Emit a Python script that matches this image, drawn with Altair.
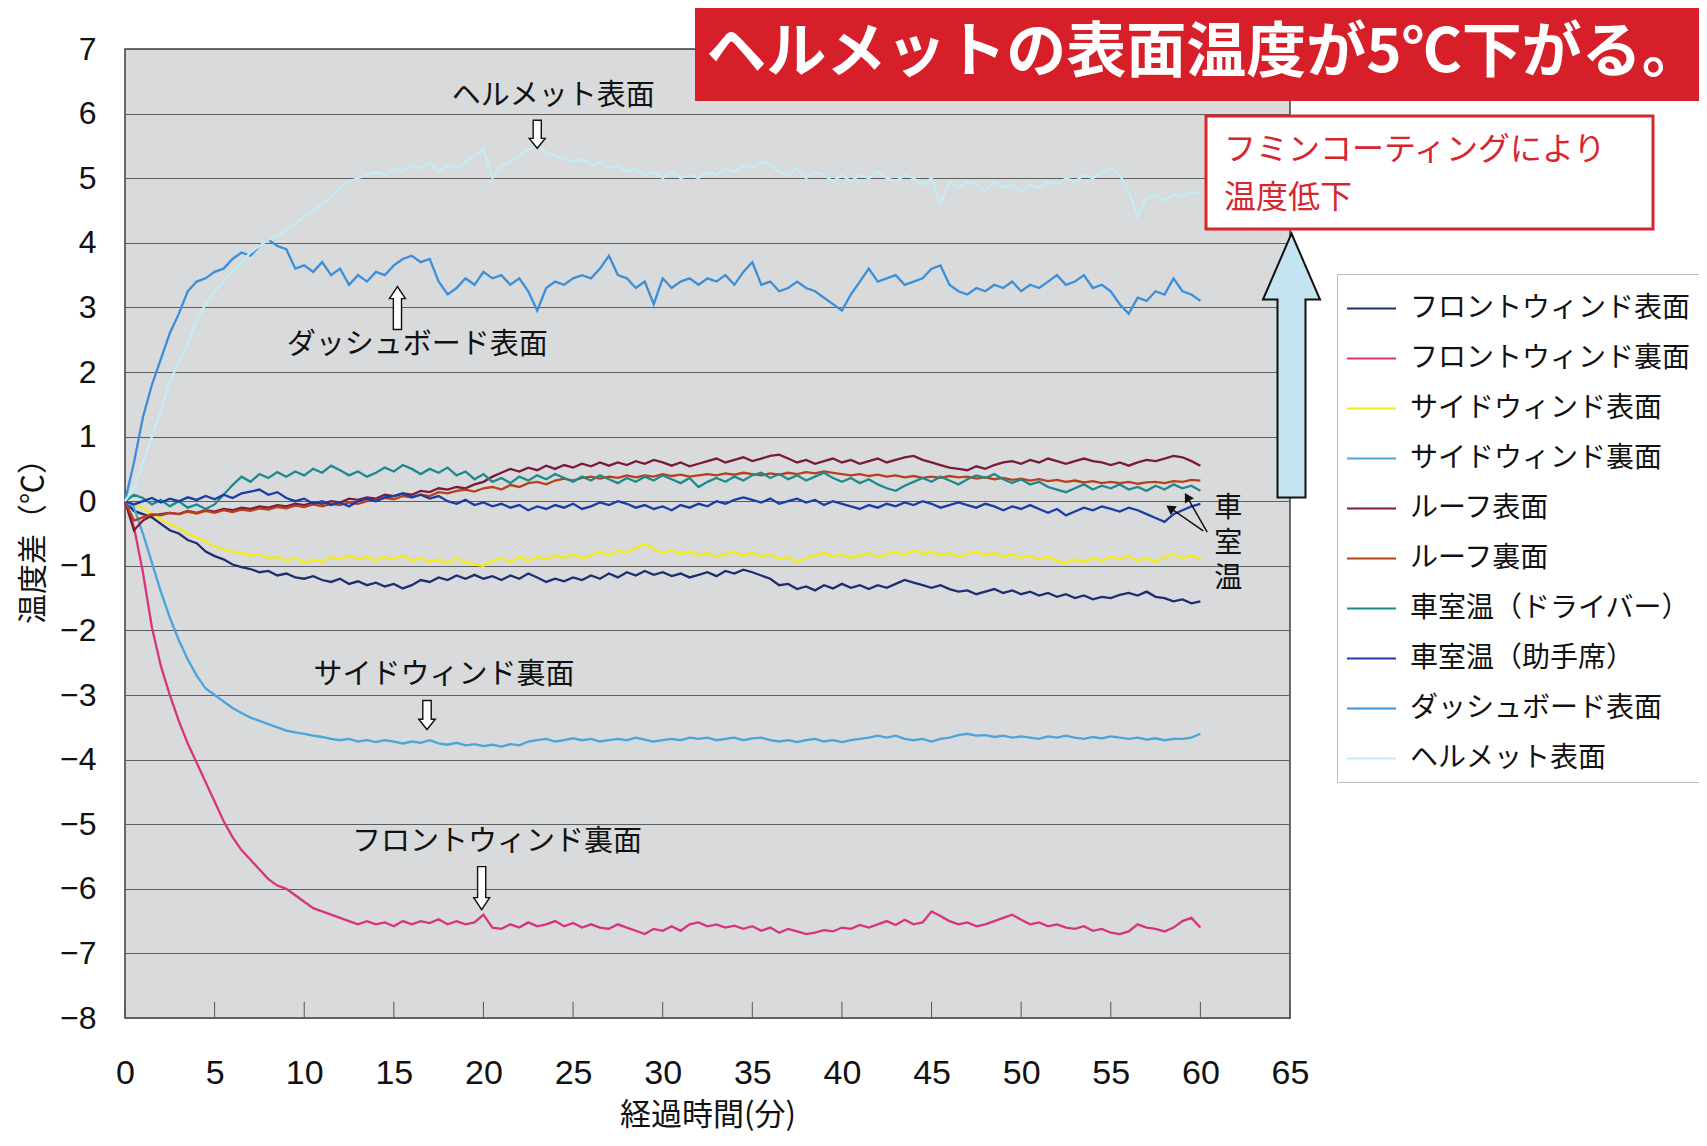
import altair as alt
import pandas as pd

# ---------------- data ----------------
minutes = [i / 2 for i in range(121)]  # 0, 0.5, ... 60 min

series_names = [
    "フロントウィンド表面", "フロントウィンド裏面", "サイドウィンド表面", "サイドウィンド裏面",
    "ルーフ表面", "ルーフ裏面", "車室温（ドライバー）", "車室温（助手席）",
    "ダッシュボード表面", "ヘルメット表面",
]
series_colors = [
    "#1d2f6f", "#d8347e", "#f2ec18", "#4aa5db",
    "#7a1b3e", "#b8401c", "#1e8a8e", "#1c3ca6",
    "#3b8fd9", "#c6ebf8",
]

front_surface = [
    0, -0.15, -0.2, -0.25, -0.35, -0.45, -0.5, -0.6, -0.65, -0.78,
    -0.85, -0.9, -0.98, -1.02, -1.05, -1.1, -1.08, -1.15, -1.12, -1.18,
    -1.2, -1.16, -1.22, -1.25, -1.2, -1.28, -1.24, -1.3, -1.26, -1.32,
    -1.28, -1.35, -1.3, -1.22, -1.25, -1.18, -1.22, -1.15, -1.2, -1.14,
    -1.2, -1.16, -1.22, -1.15, -1.2, -1.12, -1.18, -1.25, -1.2, -1.24,
    -1.18, -1.22, -1.15, -1.2, -1.12, -1.18, -1.1, -1.15, -1.08, -1.14,
    -1.1, -1.16, -1.12, -1.18, -1.14, -1.1, -1.16, -1.08, -1.12, -1.06,
    -1.1, -1.15, -1.2, -1.3, -1.28, -1.36, -1.32, -1.38, -1.3, -1.35,
    -1.28, -1.34, -1.3, -1.36, -1.3, -1.34, -1.28, -1.22, -1.26, -1.3,
    -1.34, -1.3, -1.36, -1.4, -1.38, -1.44, -1.4, -1.36, -1.42, -1.38,
    -1.44, -1.4, -1.46, -1.42, -1.48, -1.44, -1.5, -1.46, -1.52, -1.48,
    -1.5, -1.45, -1.42, -1.46, -1.4, -1.48, -1.5, -1.55, -1.52, -1.58,
    -1.55,
]
front_back = [
    0, -0.4, -1.1, -1.95, -2.55, -3.0, -3.4, -3.75, -4.05, -4.35,
    -4.65, -4.95, -5.2, -5.4, -5.55, -5.7, -5.85, -5.95, -6.0, -6.1,
    -6.2, -6.3, -6.35, -6.4, -6.45, -6.5, -6.55, -6.5, -6.55, -6.52,
    -6.58, -6.5, -6.55, -6.5, -6.53, -6.47, -6.55, -6.5, -6.55, -6.52,
    -6.4, -6.6, -6.62, -6.55, -6.6, -6.52, -6.58, -6.55, -6.5, -6.58,
    -6.53, -6.6, -6.55, -6.6, -6.62, -6.55, -6.6, -6.65, -6.7, -6.62,
    -6.65, -6.58, -6.65, -6.55, -6.52, -6.58, -6.55, -6.6, -6.57, -6.62,
    -6.58, -6.65, -6.6, -6.68, -6.62, -6.66, -6.7, -6.68, -6.64, -6.66,
    -6.6, -6.62, -6.56, -6.6, -6.55, -6.5, -6.56, -6.48, -6.55, -6.52,
    -6.35, -6.42, -6.5, -6.55, -6.52, -6.58, -6.55, -6.5, -6.45, -6.4,
    -6.48, -6.55, -6.52, -6.58, -6.55, -6.6, -6.62, -6.58, -6.65, -6.62,
    -6.68, -6.7, -6.66, -6.55, -6.6, -6.62, -6.66, -6.6, -6.5, -6.45,
    -6.6,
]
side_surface = [
    0, -0.05, -0.1, -0.2, -0.28, -0.35, -0.42, -0.5, -0.56, -0.62,
    -0.7, -0.74, -0.78, -0.8, -0.84, -0.82, -0.88, -0.86, -0.92, -0.88,
    -0.95, -0.9, -0.94, -0.86, -0.9, -0.84, -0.9, -0.85, -0.92, -0.86,
    -0.9, -0.84, -0.92, -0.88, -0.94, -0.9, -0.96, -0.88, -0.94, -0.98,
    -1.0, -0.92, -0.88, -0.94, -0.86, -0.92, -0.86, -0.9, -0.84, -0.88,
    -0.82, -0.88, -0.84, -0.78, -0.84, -0.76, -0.8, -0.72, -0.66, -0.74,
    -0.8, -0.76, -0.82, -0.78, -0.84, -0.8, -0.86, -0.82, -0.78, -0.84,
    -0.8, -0.86, -0.82, -0.9, -0.86, -0.95, -0.88, -0.84, -0.8, -0.86,
    -0.82, -0.88, -0.84, -0.8, -0.86, -0.82, -0.78, -0.84, -0.76, -0.82,
    -0.78, -0.84, -0.8, -0.86, -0.82, -0.78, -0.84, -0.8, -0.86, -0.82,
    -0.88, -0.84, -0.9, -0.86, -0.92, -0.96, -0.9, -0.94, -0.88, -0.92,
    -0.86, -0.9, -0.84, -0.92, -0.88, -0.94, -0.86, -0.82, -0.88, -0.84,
    -0.9,
]
side_back = [
    0, -0.1, -0.5, -0.95, -1.4, -1.8, -2.15, -2.45, -2.7, -2.9,
    -3.0, -3.1, -3.2, -3.28, -3.35, -3.4, -3.45, -3.5, -3.55, -3.58,
    -3.6, -3.63, -3.65, -3.68, -3.7, -3.68, -3.72, -3.7, -3.73, -3.7,
    -3.72, -3.75, -3.72, -3.74, -3.7, -3.75, -3.77, -3.74, -3.78, -3.76,
    -3.79, -3.77, -3.8, -3.76, -3.78, -3.72, -3.7, -3.68, -3.72, -3.7,
    -3.67, -3.7, -3.68, -3.72, -3.7, -3.68, -3.7, -3.66, -3.69, -3.72,
    -3.7, -3.68, -3.7, -3.66, -3.68, -3.66, -3.7, -3.68, -3.66, -3.7,
    -3.67, -3.66, -3.7, -3.72, -3.7, -3.73, -3.7, -3.68, -3.72, -3.7,
    -3.73, -3.7, -3.68, -3.66, -3.63, -3.66, -3.63, -3.68, -3.7, -3.68,
    -3.72, -3.68, -3.66, -3.62, -3.6, -3.63, -3.62, -3.65, -3.63, -3.66,
    -3.64, -3.66, -3.68, -3.64, -3.66, -3.63, -3.66, -3.68, -3.65, -3.67,
    -3.64, -3.66, -3.68, -3.66, -3.69, -3.67, -3.7, -3.68, -3.68, -3.66,
    -3.6,
]
roof_surface = [
    0, -0.45, -0.3, -0.22, -0.2, -0.18, -0.2, -0.15, -0.18, -0.14,
    -0.16, -0.12, -0.14, -0.1, -0.12, -0.08, -0.1, -0.06, -0.08, -0.04,
    -0.06, -0.02, -0.04, 0.0, -0.02, 0.04, 0.02, 0.06, 0.04, 0.1,
    0.08, 0.12, 0.1, 0.16, 0.14, 0.2, 0.18, 0.22, 0.2, 0.26,
    0.3, 0.38, 0.44, 0.5, 0.46, 0.52, 0.48, 0.55, 0.5, 0.56,
    0.52, 0.58, 0.54, 0.6, 0.55, 0.6, 0.56, 0.62, 0.58, 0.64,
    0.6, 0.55, 0.6, 0.54, 0.58, 0.62, 0.66, 0.6, 0.64, 0.68,
    0.62, 0.66, 0.7, 0.72, 0.66, 0.6, 0.64, 0.58, 0.62, 0.66,
    0.6, 0.64, 0.58, 0.62, 0.66, 0.6, 0.64, 0.68, 0.7, 0.64,
    0.6, 0.56, 0.52, 0.5, 0.48, 0.54, 0.5, 0.56, 0.6, 0.62,
    0.58, 0.64, 0.6, 0.66, 0.62, 0.58, 0.62, 0.66, 0.62, 0.6,
    0.56, 0.6, 0.55, 0.6, 0.64, 0.62, 0.66, 0.7, 0.68, 0.62,
    0.55,
]
roof_back = [
    0, -0.3, -0.25, -0.2, -0.22, -0.18, -0.2, -0.16, -0.19, -0.15,
    -0.18, -0.14, -0.17, -0.13, -0.15, -0.11, -0.13, -0.09, -0.11, -0.07,
    -0.09, -0.05, -0.08, -0.04, -0.06, -0.02, -0.04, 0.0, 0.02, 0.05,
    0.03, 0.08, 0.06, 0.1, 0.08, 0.14, 0.12, 0.16, 0.18, 0.15,
    0.2, 0.22, 0.18, 0.25, 0.22, 0.28, 0.3, 0.26, 0.32, 0.35,
    0.32, 0.36, 0.38, 0.35, 0.38, 0.36, 0.4, 0.37, 0.4, 0.38,
    0.42, 0.39, 0.41, 0.38, 0.4, 0.42, 0.4, 0.43, 0.41, 0.44,
    0.42, 0.4, 0.43, 0.41, 0.44, 0.42, 0.45, 0.43, 0.46, 0.44,
    0.42, 0.4, 0.42, 0.39, 0.41, 0.38, 0.4, 0.37, 0.39, 0.36,
    0.38, 0.36, 0.39, 0.37, 0.38, 0.35, 0.37, 0.34, 0.36, 0.33,
    0.35, 0.32, 0.34, 0.31, 0.33, 0.3, 0.32, 0.29, 0.31, 0.28,
    0.3, 0.28, 0.3, 0.27, 0.29, 0.3, 0.28, 0.31, 0.3, 0.33,
    0.32,
]
cabin_driver = [
    0, 0.1, 0.05, -0.05, 0.02, -0.08, 0.0, -0.1, -0.05, -0.12,
    -0.05, 0.1, 0.25, 0.38, 0.3, 0.42, 0.36, 0.45, 0.38, 0.46,
    0.4, 0.5, 0.44, 0.55, 0.48, 0.4, 0.46, 0.38, 0.44, 0.52,
    0.46, 0.56, 0.5, 0.42, 0.5, 0.44, 0.52, 0.4, 0.46, 0.34,
    0.42, 0.3, 0.36, 0.28, 0.38, 0.32, 0.4, 0.34, 0.42, 0.36,
    0.3, 0.38, 0.32, 0.4, 0.34, 0.28, 0.36, 0.3, 0.38, 0.32,
    0.4, 0.34, 0.28, 0.36, 0.22, 0.3, 0.36, 0.3, 0.38, 0.32,
    0.4, 0.44, 0.36, 0.42, 0.34, 0.4, 0.32, 0.38, 0.44, 0.36,
    0.3, 0.36, 0.28, 0.34, 0.26, 0.2, 0.16, 0.24, 0.3, 0.36,
    0.3, 0.38, 0.32, 0.26, 0.34, 0.4, 0.36, 0.42, 0.34, 0.28,
    0.34, 0.26, 0.3, 0.22, 0.18, 0.14, 0.2, 0.26, 0.18, 0.24,
    0.2, 0.26, 0.18, 0.22, 0.16, 0.24, 0.18, 0.26, 0.2, 0.24,
    0.16,
]
cabin_passenger = [
    0, -0.05, 0.0, 0.05, -0.02, 0.04, 0.0, 0.06, 0.02, 0.08,
    0.03, 0.1, 0.05, 0.12, 0.15, 0.18, 0.1, 0.14, 0.05, 0.0,
    0.04, -0.04, 0.0, -0.06, -0.02, -0.08, 0.0, 0.04, 0.0, 0.06,
    0.08, 0.12, 0.06, 0.1, 0.04, 0.08, 0.0, -0.04, 0.02, -0.06,
    -0.02, -0.08, -0.04, -0.1, -0.06, -0.14, -0.08, -0.12, -0.06, -0.1,
    -0.04, -0.12, -0.08, -0.02, -0.06, 0.0, -0.04, -0.1, -0.06, -0.12,
    -0.08, -0.14, -0.06, -0.1, -0.04, -0.08, 0.0, -0.04, 0.02, 0.06,
    0.02, -0.02, 0.04, -0.04, 0.0, 0.04, -0.02, 0.02, -0.06, 0.0,
    -0.04, -0.08, -0.12, -0.06, -0.1, -0.04, -0.08, -0.02, -0.06, 0.0,
    -0.04, -0.1, -0.06, -0.02, -0.06, -0.1, -0.04, -0.08, -0.14, -0.08,
    -0.12, -0.06, -0.12, -0.18, -0.12, -0.22, -0.16, -0.1, -0.14, -0.08,
    -0.12, -0.16, -0.1, -0.14, -0.2, -0.26, -0.32, -0.2, -0.14, -0.08,
    -0.04,
]
dashboard = [
    0, 0.6, 1.3, 1.8, 2.2, 2.6, 2.9, 3.25, 3.4, 3.45,
    3.55, 3.6, 3.75, 3.85, 3.8, 3.95, 4.05, 3.95, 3.9, 3.6,
    3.65, 3.55, 3.7, 3.5, 3.6, 3.35, 3.5, 3.4, 3.55, 3.5,
    3.65, 3.75, 3.8, 3.7, 3.75, 3.4, 3.2, 3.3, 3.45, 3.35,
    3.55, 3.45, 3.5, 3.35, 3.45, 3.25, 2.95, 3.3, 3.4, 3.35,
    3.45, 3.5, 3.45, 3.6, 3.8, 3.5, 3.45, 3.3, 3.4, 3.05,
    3.45, 3.3, 3.4, 3.45, 3.35, 3.45, 3.4, 3.5, 3.35, 3.55,
    3.7, 3.35, 3.4, 3.25, 3.3, 3.4, 3.3, 3.25, 3.15, 3.05,
    2.95, 3.2, 3.4, 3.6, 3.4, 3.45, 3.5, 3.35, 3.4, 3.45,
    3.6, 3.65, 3.35, 3.25, 3.2, 3.3, 3.25, 3.35, 3.3, 3.4,
    3.25, 3.35, 3.3, 3.4, 3.5, 3.35, 3.4, 3.5, 3.3, 3.35,
    3.25, 3.05, 2.9, 3.15, 3.1, 3.25, 3.2, 3.45, 3.25, 3.2,
    3.1,
]
helmet = [
    0, 0.2, 0.6, 1.0, 1.4, 1.85, 2.15, 2.45, 2.8, 3.05,
    3.25, 3.4, 3.55, 3.7, 3.85, 3.95, 4.05, 4.1, 4.2, 4.3,
    4.4, 4.5, 4.6, 4.7, 4.85, 4.95, 5.0, 5.05, 5.1, 5.05,
    5.15, 5.1, 5.2, 5.15, 5.25, 5.1, 5.2, 5.15, 5.25, 5.35,
    5.45, 5.0, 5.2, 5.25, 5.35, 5.45, 5.5, 5.4, 5.35, 5.3,
    5.25, 5.3, 5.2, 5.25, 5.15, 5.2, 5.1, 5.15, 5.05, 5.1,
    5.0, 5.1, 5.0, 5.05, 5.0, 5.1, 5.05, 5.15, 5.1, 5.2,
    5.15, 5.25, 5.2, 5.1, 5.05, 5.15, 5.0, 5.1, 5.05, 4.95,
    5.05, 4.95, 5.05, 5.0, 5.1, 5.0, 4.95, 5.05, 5.0, 4.9,
    5.0, 4.6, 4.95, 4.85, 4.95, 4.9, 4.8, 4.95, 4.85, 4.9,
    4.8, 4.9, 4.85, 4.95, 4.9, 5.0, 4.95, 5.05, 5.0, 5.1,
    5.15, 5.05, 4.8, 4.4, 4.7, 4.75, 4.65, 4.75, 4.7, 4.8,
    4.75,
]

x_tick_values = [0, 5, 10, 15, 20, 25, 30, 35, 40, 45, 50, 55, 60, 65]
y_tick_values = [-8, -7, -6, -5, -4, -3, -2, -1, 0, 1, 2, 3, 4, 5, 6, 7]

ann_labels = ["ヘルメット表面", "ダッシュボード表面", "サイドウィンド裏面", "フロントウィンド裏面"]
ann_label_time = [23.9, 16.3, 17.8, 20.76]
ann_label_temp = [6.27, 2.42, -2.69, -5.28]

banner_text = "ヘルメットの表面温度が5℃下がる。"
note_lines = ["フミンコーティングにより", "温度低下"]
cabin_label = ["車", "室", "温"]

# ---------------- build ----------------
all_values = [front_surface, front_back, side_surface, side_back, roof_surface,
              roof_back, cabin_driver, cabin_passenger, dashboard, helmet]
rows = []
for name, vals in zip(series_names, all_values):
    for t, v in zip(minutes, vals):
        rows.append({"time": t, "temp": v, "series": name})
df = pd.DataFrame(rows)

xs = alt.Scale(domain=[0, 65], nice=False, zero=False)
ys = alt.Scale(domain=[-8, 7], nice=False, zero=False)

JP = "Noto Sans CJK JP"

x_axis = alt.Axis(values=x_tick_values, title="経過時間(分)", grid=False, ticks=False,
                  domain=False, labelFontSize=34, labelFlush=False,
                  labelFont="Liberation Sans Narrow, Liberation Sans, sans-serif",
                  labelPadding=38, labelColor="#111", titleFontSize=31, titleFont=JP,
                  titleFontWeight="normal", titleColor="#111", titleX=582.5, titleY=97,
                  titleBaseline="middle", titleAlign="center")
y_axis = alt.Axis(values=y_tick_values, title="温度差（℃）", grid=True, gridColor="#5e5e5e",
                  gridWidth=1, ticks=False, domain=False, labelFontSize=32,
                  labelFont="Liberation Sans", labelPadding=29, labelColor="#111", format="d",
                  titleFontSize=30, titleFont=JP, titleFontWeight="normal", titleColor="#111",
                  titleX=-92, titleY=484.5, titleAngle=-90, titleBaseline="middle",
                  titleAlign="center")

legend = alt.Legend(title=None, orient="none", legendX=1212, legendY=225,
                    symbolType="stroke", symbolSize=2400, symbolStrokeWidth=2,
                    labelFontSize=28, labelFont=JP, labelColor="#111", labelLimit=500,
                    rowPadding=10, padding=9, fillColor="white", strokeColor="#bdbdbd",
                    labelOffset=13)

lines = alt.Chart(df).mark_line(strokeWidth=2.3).encode(
    x=alt.X("time:Q", scale=xs, axis=x_axis),
    y=alt.Y("temp:Q", scale=ys, axis=y_axis),
    color=alt.Color("series:N", scale=alt.Scale(domain=series_names, range=series_colors),
                    legend=legend),
)

# inner tick marks along the bottom edge
tick_df = pd.DataFrame({"time": x_tick_values, "temp": [-8] * len(x_tick_values),
                        "temp2": [-7.75] * len(x_tick_values)})
ticks = alt.Chart(tick_df).mark_rule(color="#555", strokeWidth=1).encode(
    x=alt.X("time:Q", scale=xs), y=alt.Y("temp:Q", scale=ys), y2="temp2:Q")

# annotation labels
ann_df = pd.DataFrame({"time": ann_label_time, "temp": ann_label_temp, "label": ann_labels})
ann_text = alt.Chart(ann_df).mark_text(font=JP, fontSize=29, color="#111",
                                       baseline="middle", align="center").encode(
    x=alt.X("time:Q", scale=xs), y=alt.Y("temp:Q", scale=ys), text="label:N")

DOWN_SHORT = "M-0.29,-1L0.29,-1L0.29,0.29L0.57,0.29L0,1L-0.57,0.29L-0.29,0.29Z"
DOWN_LONG = "M-0.19,-1L0.19,-1L0.19,0.44L0.37,0.44L0,1L-0.37,0.44L-0.19,0.44Z"
UP_LONG = "M-0.19,1L0.19,1L0.19,-0.44L0.37,-0.44L0,-1L-0.37,-0.44L-0.19,-0.44Z"


def outline_arrow(t, v, shape, size):
    d = pd.DataFrame({"time": [t], "temp": [v]})
    return alt.Chart(d).mark_point(shape=shape, size=size, filled=True, fill="white",
                                   stroke="#111", strokeWidth=1.4, opacity=1).encode(
        x=alt.X("time:Q", scale=xs), y=alt.Y("temp:Q", scale=ys))


arrows = [
    outline_arrow(23.0, 5.68, DOWN_SHORT, 784),
    outline_arrow(15.2, 2.99, UP_LONG, 1849),
    outline_arrow(16.85, -3.31, DOWN_SHORT, 841),
    outline_arrow(19.9, -5.99, DOWN_LONG, 1849),
]

# 車室温 label with two pointer arrows
one = pd.DataFrame({"k": [0]})
cabin_text = alt.Chart(pd.DataFrame({"time": [61.55], "temp": [-0.12]})).mark_text(
    text=cabin_label, font=JP, fontSize=28, color="#111", lineHeight=35,
    baseline="middle", align="center").encode(
    x=alt.X("time:Q", scale=xs), y=alt.Y("temp:Q", scale=ys))
ptr_df = pd.DataFrame({"time": [60.38, 60.16], "temp": [-0.48, -0.46],
                       "time2": [59.26, 58.31], "temp2": [0.065, -0.105],
                       "ang": [330, 305]})
ptr_lines = alt.Chart(ptr_df).mark_rule(color="#111", strokeWidth=1.5).encode(
    x=alt.X("time:Q", scale=xs), y=alt.Y("temp:Q", scale=ys), x2="time2:Q", y2="temp2:Q")
ptr_heads = alt.Chart(ptr_df).mark_point(shape="triangle-up", size=110, filled=True,
                                         color="#111", opacity=1).encode(
    x=alt.X("time2:Q", scale=xs), y=alt.Y("temp2:Q", scale=ys),
    angle=alt.Angle("ang:Q", scale=None))

# big up arrow
BIG_UP = "M0,-1L0.216,-0.5L0.106,-0.5L0.106,1L-0.106,1L-0.106,-0.5L-0.216,-0.5Z"
big_arrow = alt.Chart(one).mark_point(shape=BIG_UP, size=69696, filled=True, fill="#c4e4f2",
                                      stroke="#111", strokeWidth=2, opacity=1).encode(
    x=alt.value(1166.5), y=alt.value(316.5))

# note box
note_box = alt.Chart(one).mark_rect(fill="white", stroke="#d8262f", strokeWidth=3).encode(
    x=alt.value(1081), x2=alt.value(1528), y=alt.value(67), y2=alt.value(180))
note_1 = alt.Chart(one).mark_text(text=note_lines[0], font=JP, fontSize=32, color="#d8262f",
                                  align="left", baseline="middle").encode(
    x=alt.value(1099), y=alt.value(101))
note_2 = alt.Chart(one).mark_text(text=note_lines[1], font=JP, fontSize=32, color="#d8262f",
                                  align="left", baseline="middle").encode(
    x=alt.value(1099), y=alt.value(149))

# banner
banner = alt.Chart(one).mark_rect(color="#d71f29").encode(
    x=alt.value(570), x2=alt.value(1600), y=alt.value(-44), y2=alt.value(52))
banner_t = alt.Chart(one).mark_text(text=banner_text, font=JP, fontSize=60, fontWeight="bold",
                                    color="white", align="center", baseline="middle").encode(
    x=alt.value(1079), y=alt.value(5))

chart = alt.layer(
    lines, ticks, ann_text, *arrows, cabin_text, ptr_lines, ptr_heads,
    big_arrow, note_box, note_1, note_2, banner, banner_t,
).properties(
    width=1165, height=969,
    autosize=alt.AutoSizeParams(type="none"),
    padding={"left": 117, "top": 41, "right": 409, "bottom": 117},
    background="white",
).configure_view(
    fill="#d8dadb", stroke="#3c3c3c", strokeWidth=1.5,
)

chart.save("out.html", embed_options={"renderer": "svg", "actions": False})
